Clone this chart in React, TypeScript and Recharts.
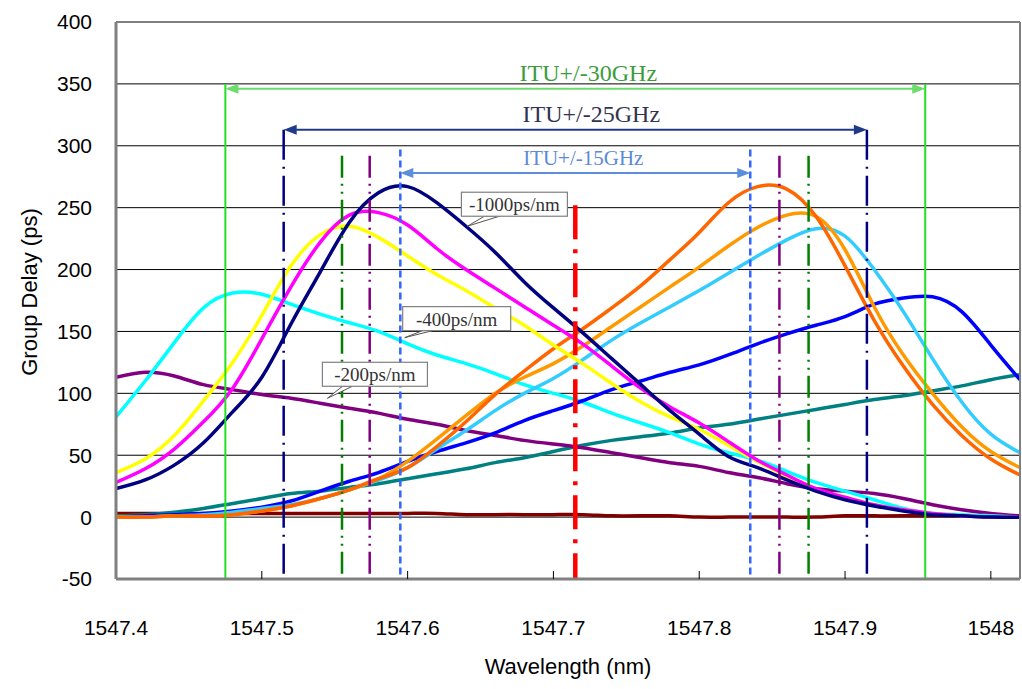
import React from 'react';
import {
  LineChart,
  Line,
  XAxis,
  YAxis,
  CartesianGrid,
  ReferenceLine,
  ReferenceDot,
} from 'recharts';

// wavelength samples (nm)
const WAVELENGTH = [
  1547.4, 1547.42, 1547.44, 1547.46, 1547.48, 1547.5, 1547.52, 1547.54,
  1547.56, 1547.58, 1547.6, 1547.62, 1547.64, 1547.66, 1547.68, 1547.7,
  1547.72, 1547.74, 1547.76, 1547.78, 1547.8, 1547.82, 1547.84, 1547.86,
  1547.88, 1547.9, 1547.92, 1547.94, 1547.96, 1547.98, 1548.0, 1548.02,
];

const X_TICKS = [1547.4, 1547.5, 1547.6, 1547.7, 1547.8, 1547.9, 1548.0];
const X_TICK_LABELS = ['1547.4', '1547.5', '1547.6', '1547.7', '1547.8', '1547.9', '1548'];
const Y_TICKS = [-50, 0, 50, 100, 150, 200, 250, 300, 350, 400];

// group delay (ps) per curve
const MAROON = [3, 3, 3, 3, 3, 3, 3, 3, 3, 3, 3, 3, 2, 2, 2, 2, 2, 1, 1, 1, 0, 0, 0, 0, 0, 1, 1, 1, 1, 1, 1, 1];
const TEAL_200 = [1, 2, 4, 7, 11, 15, 19, 21, 24, 27, 31, 35, 39, 44, 48, 53, 58, 62, 65, 68, 72, 75, 79, 83, 87, 91, 95, 98, 102, 106, 111, 115];
const PURPLE_200 = [113, 117, 114, 107, 103, 99, 96, 92, 88, 84, 79, 75, 70, 66, 62, 59, 56, 52, 48, 44, 41, 36, 32, 27, 23, 21, 19, 15, 10, 6, 3, 1];
const CYAN_400 = [81, 110, 141, 169, 181, 180, 172, 164, 157, 150, 140, 131, 124, 116, 107, 100, 93, 84, 76, 68, 59, 52, 46, 37, 28, 21, 14, 7, 3, 2, 1, 0];
const BLUE_400 = [0, 1, 2, 3, 5, 8, 13, 21, 29, 36, 45, 53, 60, 68, 78, 86, 94, 103, 110, 117, 123, 131, 140, 148, 155, 162, 172, 177, 178, 166, 139, 111];
const SKY = [0, 0, 1, 2, 4, 7, 10, 15, 22, 30, 40, 55, 70, 86, 100, 112, 127, 143, 157, 170, 183, 197, 211, 224, 233, 227, 200, 166, 128, 93, 67, 52];
const ORANGE_LIGHT = [0, 0, 1, 1, 2, 5, 9, 15, 22, 31, 45, 63, 82, 100, 113, 124, 138, 154, 170, 186, 202, 219, 234, 244, 243, 216, 170, 131, 100, 73, 53, 40];
const ORANGE_DARK = [0, 0, 1, 1, 2, 5, 9, 15, 22, 31, 40, 57, 77, 99, 118, 136, 152, 169, 187, 208, 230, 254, 267, 265, 243, 203, 159, 122, 91, 66, 47, 34];
const YELLOW = [36, 47, 66, 94, 125, 163, 203, 228, 235, 226, 211, 196, 183, 169, 155, 139, 124, 108, 93, 81, 71, 58, 45, 33, 22, 16, 10, 6, 3, 1, 0, 0];
const MAGENTA = [28, 39, 55, 77, 104, 144, 186, 222, 244, 246, 236, 217, 200, 185, 170, 155, 140, 122, 104, 89, 76, 61, 46, 34, 23, 16, 10, 6, 3, 1, 0, 0];
const NAVY_1000 = [23, 30, 42, 60, 85, 113, 156, 198, 238, 262, 267, 254, 235, 214, 190, 169, 149, 128, 107, 86, 67, 49, 40, 30, 21, 14, 9, 5, 2, 1, 0, 0];

const SERIES = [
  { key: 'maroon', values: MAROON, color: '#800000' },
  { key: 'teal', values: TEAL_200, color: '#008080' },
  { key: 'purple', values: PURPLE_200, color: '#800080' },
  { key: 'cyan', values: CYAN_400, color: '#00ffff' },
  { key: 'blue', values: BLUE_400, color: '#0000ff' },
  { key: 'sky', values: SKY, color: '#33ccff' },
  { key: 'orangeLight', values: ORANGE_LIGHT, color: '#ff9900' },
  { key: 'orangeDark', values: ORANGE_DARK, color: '#ff6600' },
  { key: 'yellow', values: YELLOW, color: '#ffff00' },
  { key: 'magenta', values: MAGENTA, color: '#ff00ff' },
  { key: 'navy', values: NAVY_1000, color: '#000080' },
];

// ITU window markers
const ITU_CENTER = 1547.715;
const MARKERS = [
  { left: 1547.475, right: 1547.955, top: 350, color: '#22e022', dash: undefined, width: 2 },
  { left: 1547.515, right: 1547.915, top: 313, color: '#000080', dash: '30 7 2 7', width: 2.5 },
  { left: 1547.555, right: 1547.875, top: 292, color: '#008000', dash: '22 6 2 6 2 6', width: 2.5 },
  { left: 1547.574, right: 1547.855, top: 292, color: '#800080', dash: '22 6 2 6 2 6', width: 2.5 },
  { left: 1547.595, right: 1547.835, top: 297, color: '#3366ff', dash: '7 4', width: 2.5 },
];

const SPANS = [
  { label: 'ITU+/-30GHz', left: 1547.475, right: 1547.955, y: 346, color: '#6cdc6c', text: '#3c9c3c', size: 24, dx: 13 },
  { label: 'ITU+/-25GHz', left: 1547.515, right: 1547.915, y: 313, color: '#203a8a', text: '#333350', size: 24, dx: 16 },
  { label: 'ITU+/-15GHz', left: 1547.595, right: 1547.835, y: 278, color: '#5b8fdc', text: '#5b8ad6', size: 21, dx: 8 },
];

const CALLOUTS = [
  { label: '-1000ps/nm', x: 1547.641, y: 235, box: [-6, -34, 106, 24], base: [17, 32] },
  { label: '-400ps/nm', x: 1547.598, y: 145, box: [-2, -31, 108, 24], base: [18, 28] },
  { label: '-200ps/nm', x: 1547.545, y: 96, box: [-5, -36, 105, 24], base: [15, 25] },
];

const data = WAVELENGTH.map((wl, i) => {
  const row: Record<string, number> = { wl };
  SERIES.forEach((s) => {
    row[s.key] = s.values[i];
  });
  return row;
});

const SANS = '"Liberation Sans", Arial, sans-serif';
const SERIF = '"Liberation Serif", "Times New Roman", serif';

const spanShape = (span: typeof SPANS[number]) => (props: any) => {
  const { x1, y1, x2 } = props;
  const len = 13;
  const h = 5;
  return (
    <g>
      <line x1={x1 + 4} y1={y1} x2={x2 - 4} y2={y1} stroke={span.color} strokeWidth={2} />
      <polygon points={`${x1},${y1} ${x1 + len},${y1 - h} ${x1 + len},${y1 + h}`} fill={span.color} />
      <polygon points={`${x2},${y1} ${x2 - len},${y1 - h} ${x2 - len},${y1 + h}`} fill={span.color} />
      <text
        x={(x1 + x2) / 2 + span.dx}
        y={y1 - 8}
        textAnchor="middle"
        fill={span.text}
        fontFamily={SERIF}
        fontSize={span.size}
      >
        {span.label}
      </text>
    </g>
  );
};

const calloutShape = (c: typeof CALLOUTS[number]) => (props: any) => {
  const { cx, cy } = props;
  const [bx, by, bw, bh] = c.box;
  const bottom = cy + by + bh;
  return (
    <g>
      <polygon
        points={`${cx},${cy} ${cx + c.base[0]},${bottom} ${cx + c.base[1]},${bottom}`}
        fill="#ffffff"
        stroke="#555555"
        strokeWidth={1}
      />
      <rect x={cx + bx} y={cy + by} width={bw} height={bh} fill="#ffffff" stroke="#808080" strokeWidth={1.2} />
      <text
        x={cx + bx + bw / 2}
        y={cy + by + bh - 5}
        textAnchor="middle"
        fill="#333333"
        fontFamily={SERIF}
        fontSize={19}
      >
        {c.label}
      </text>
    </g>
  );
};

export default function App() {
  return (
    <div style={{ position: 'absolute', left: 0, top: 0, width: 1022, height: 689, background: '#fff' }}>
      <LineChart
        width={1022}
        height={689}
        data={data}
        margin={{ top: 22, right: 2, bottom: 40, left: 56 }}
      >
        <CartesianGrid horizontal vertical={false} stroke="#000000" strokeWidth={1} />
        <XAxis
          type="number"
          dataKey="wl"
          domain={[1547.4, 1548.02]}
          ticks={X_TICKS}
          tickFormatter={(v: number) => X_TICK_LABELS[X_TICKS.findIndex((t) => Math.abs(t - v) < 1e-6)] ?? ''}
          height={70}
          tickSize={-8}
          tickMargin={49}
          tickLine={{ stroke: '#000000', strokeWidth: 1 }}
          axisLine={{ stroke: '#808080', strokeWidth: 3 }}
          tick={{ fill: '#000000', fontSize: 21, fontFamily: SANS }}
          allowDataOverflow
        />
        <YAxis
          type="number"
          domain={[-50, 400]}
          ticks={Y_TICKS}
          width={60}
          tickLine={false}
          tickSize={0}
          tickMargin={24}
          axisLine={{ stroke: '#808080', strokeWidth: 3 }}
          tick={{ fill: '#000000', fontSize: 21, fontFamily: SANS }}
          allowDataOverflow
        />
        {SERIES.map((s) => (
          <Line
            key={s.key}
            type="natural"
            dataKey={s.key}
            stroke={s.color}
            strokeWidth={3.5}
            dot={false}
            activeDot={false}
            isAnimationActive={false}
          />
        ))}
        <ReferenceLine x={1548.02} stroke="#808080" strokeWidth={2} />
        {MARKERS.flatMap((m, i) =>
          [m.left, m.right].map((x, j) => (
            <ReferenceLine
              key={`m${i}-${j}`}
              segment={[{ x, y: m.top }, { x, y: -50 }]}
              stroke={m.color}
              strokeWidth={m.width}
              strokeDasharray={m.dash}
            />
          )),
        )}
        <ReferenceLine
          segment={[{ x: ITU_CENTER, y: 252 }, { x: ITU_CENTER, y: -50 }]}
          stroke="#ff0000"
          strokeWidth={4.5}
          strokeDasharray="34 10 4 10"
        />
        {SPANS.map((s) => (
          <ReferenceLine
            key={s.label}
            segment={[{ x: s.left, y: s.y }, { x: s.right, y: s.y }]}
            stroke={s.color}
            shape={spanShape(s)}
          />
        ))}
        {CALLOUTS.map((c) => (
          <ReferenceDot key={c.label} x={c.x} y={c.y} r={0} shape={calloutShape(c)} />
        ))}
      </LineChart>
      <div
        style={{
          position: 'absolute',
          left: 368,
          width: 400,
          top: 654,
          textAlign: 'center',
          fontFamily: SANS,
          fontSize: 22,
          color: '#000',
        }}
      >
        Wavelength (nm)
      </div>
      <div
        style={{
          position: 'absolute',
          left: 30,
          top: 292,
          transform: 'translate(-50%, -50%) rotate(-90deg)',
          whiteSpace: 'nowrap',
          fontFamily: SANS,
          fontSize: 22,
          color: '#000',
        }}
      >
        Group Delay (ps)
      </div>
    </div>
  );
}
